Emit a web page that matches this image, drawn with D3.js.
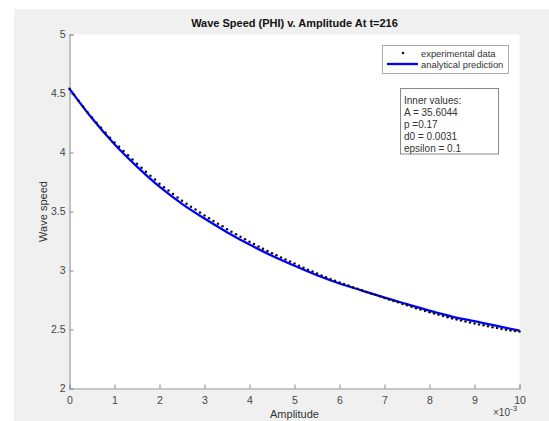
<!DOCTYPE html>
<html><head><meta charset="utf-8">
<script src="https://cdn.jsdelivr.net/npm/d3@7"></script>
<style>body{margin:0;background:#fff}svg{display:block}text{font-family:"Liberation Sans",Arial,Helvetica,sans-serif}</style>
</head><body>
<svg id="c" width="549" height="421"></svg>
<script>
// Data (amplitude in units of 1e-3)
const titleText = "Wave Speed (PHI) v. Amplitude At t=216";
const xTicks = [0,1,2,3,4,5,6,7,8,9,10];
const yTicks = [2,2.5,3,3.5,4,4.5,5];
const lineX = [0,0.5,1,1.5,2,2.5,3,3.5,4,4.5,5,5.5,6,6.5,7,7.5,8,8.5,9,9.5,10];
const lineY = [4.54,4.29,4.07,3.88,3.71,3.565,3.44,3.325,3.22,3.125,3.04,2.96,2.89,2.83,2.77,2.715,2.66,2.61,2.57,2.53,2.49];
const dotX = [0,0.1,0.2,0.3,0.4,0.5,0.6,0.7,0.8,0.9,1,1.1,1.2,1.3,1.4,1.5,1.6,1.7,1.8,1.9,2,2.1,2.2,2.3,2.4,2.5,2.6,2.7,2.8,2.9,3,3.1,3.2,3.3,3.4,3.5,3.6,3.7,3.8,3.9,4,4.1,4.2,4.3,4.4,4.5,4.6,4.7,4.8,4.9,5,5.1,5.2,5.3,5.4,5.5,5.6,5.7,5.8,5.9,6,6.1,6.2,6.3,6.4,6.5,6.6,6.7,6.8,6.9,7,7.1,7.2,7.3,7.4,7.5,7.6,7.7,7.8,7.9,8,8.1,8.2,8.3,8.4,8.5,8.6,8.7,8.8,8.9,9,9.1,9.2,9.3,9.4,9.5,9.6,9.7,9.8,9.9,10];
const dotY = [4.540,4.489,4.439,4.390,4.342,4.296,4.252,4.209,4.167,4.126,4.085,
 4.049,4.012,3.976,3.940,3.905,3.871,3.837,3.804,3.771,3.736,
 3.706,3.677,3.648,3.619,3.591,3.566,3.541,3.516,3.491,3.466,
 3.443,3.420,3.397,3.374,3.350,3.328,3.307,3.286,3.265,3.244,
 3.224,3.204,3.185,3.166,3.147,3.129,3.111,3.094,3.077,3.059,
 3.041,3.024,3.007,2.991,2.975,2.958,2.943,2.928,2.914,2.899,
 2.885,2.872,2.859,2.846,2.833,2.818,2.806,2.794,2.781,2.768,
 2.755,2.742,2.730,2.717,2.705,2.693,2.681,2.669,2.657,2.646,
 2.635,2.624,2.614,2.603,2.593,2.584,2.576,2.568,2.559,2.551,
 2.543,2.535,2.527,2.519,2.512,2.504,2.497,2.491,2.487,2.484];
const legendLabels = ["experimental data","analytical prediction"];
const infoLines = ["Inner values:","A = 35.6044","p =0.17","d0 = 0.0031","epsilon = 0.1"];

const svg = d3.select("#c");
svg.append("rect").attr("x",14).attr("y",9).attr("width",535).attr("height",412).attr("fill","#f0f0f0");

const L=69.5, R=519.5, T=34.5, B=388.5;
const x = d3.scaleLinear().domain([0,10]).range([L,R]);
const y = d3.scaleLinear().domain([2,5]).range([B,T]);

svg.append("rect").attr("x",L).attr("y",T).attr("width",R-L).attr("height",B-T).attr("fill","#fff");

const axisCol="#9a9a9a", labCol="#444";
const gx = svg.append("g").attr("transform",`translate(0,${B})`)
  .call(d3.axisBottom(x).tickValues(xTicks).tickFormat(d3.format("d")).tickSizeInner(-4).tickSizeOuter(-4).tickPadding(6));
const gy = svg.append("g").attr("transform",`translate(${L},0)`)
  .call(d3.axisLeft(y).tickValues(yTicks).tickFormat(d=>String(d)).tickSizeInner(-4).tickSizeOuter(-4).tickPadding(4));
[gx,gy].forEach(g=>{
  g.selectAll("path,line").attr("stroke",axisCol).attr("stroke-width",1.2);
  g.selectAll("text").attr("fill",labCol).style("font-size","10.5px").style("font-family",'"Liberation Sans",Arial,sans-serif');
});
gx.selectAll("text").attr("y",8);

// curve
svg.append("path").datum(lineX.map((d,i)=>[d,lineY[i]]))
  .attr("fill","none").attr("stroke","#0000ff").attr("stroke-width",2.3)
  .attr("d",d3.line().x(d=>x(d[0])).y(d=>y(d[1])).curve(d3.curveMonotoneX));
// dots
svg.append("g").selectAll("circle").data(dotX.map((d,i)=>[d,dotY[i]])).join("circle")
  .attr("cx",d=>x(d[0])).attr("cy",d=>y(d[1])).attr("r",1.25).attr("fill","#111");

// title
svg.append("text").attr("x",(L+R)/2).attr("y",27).attr("text-anchor","middle")
  .style("font-weight","bold").style("font-size","11px").attr("fill","#111").text(titleText);
// axis labels
svg.append("text").attr("x",(L+R)/2).attr("y",418).attr("text-anchor","middle")
  .style("font-size","11px").attr("fill","#333").text("Amplitude");
svg.append("text").attr("transform",`translate(47,${(T+B)/2}) rotate(-90)`).attr("text-anchor","middle")
  .style("font-size","11px").attr("fill","#333").text("Wave speed");
const ex = svg.append("text").attr("x",493).attr("y",416).style("font-size","10px").attr("fill",labCol);
ex.append("tspan").text("\u00d710");
ex.append("tspan").attr("dy",-5).style("font-size","8px").text("-3");

// legend
const lg = svg.append("g");
lg.append("rect").attr("x",382.5).attr("y",45.5).attr("width",126).attr("height",28).attr("fill","#fff").attr("stroke","#a8a8a8");
lg.append("circle").attr("cx",403).attr("cy",53).attr("r",1.25).attr("fill","#111");
lg.append("line").attr("x1",387).attr("x2",418).attr("y1",64).attr("y2",64).attr("stroke","#0000ff").attr("stroke-width",2.3);
legendLabels.forEach((t,i)=>lg.append("text").attr("x",421).attr("y",56.5+i*11).style("font-size","9.4px").attr("fill","#333").text(t));

// info box
const ib = svg.append("g");
ib.append("rect").attr("x",400.5).attr("y",88.5).attr("width",98).attr("height",65.5).attr("fill","#fff").attr("stroke","#8a8a8a");
infoLines.forEach((t,i)=>ib.append("text").attr("x",404).attr("y",103.5+i*12.1).style("font-size","10px").attr("fill","#333").text(t));
</script>
</body></html>
